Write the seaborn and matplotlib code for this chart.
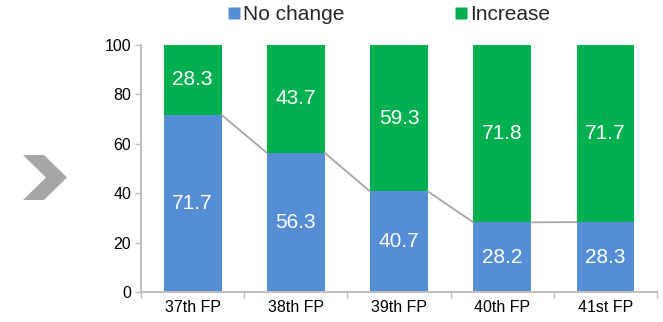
import matplotlib
matplotlib.use("Agg")
import matplotlib.pyplot as plt
from matplotlib.patches import Polygon
from matplotlib.lines import Line2D
from matplotlib.ticker import FixedLocator
import seaborn as sns
import pandas as pd

periods = ["37th FP", "38th FP", "39th FP", "40th FP", "41st FP"]
no_change = [71.7, 56.3, 40.7, 28.2, 28.3]
increase = [28.3, 43.7, 59.3, 71.8, 71.7]

blue = "#558ED5"
green = "#00B050"
grey = "#BFBFBF"

sns.set_theme(style="white")
plt.rcParams["font.family"] = ["Liberation Sans", "DejaVu Sans"]

df = pd.DataFrame({"period": periods, "no_change": no_change, "increase": increase})
df["total"] = df["no_change"] + df["increase"]

fig = plt.figure(figsize=(6.63, 3.22), dpi=100)
ax = fig.add_axes([0.2127, 0.0932, 0.991 - 0.2127, 0.8602 - 0.0932])

bw = 0.56
sns.barplot(data=df, x="period", y="total", color=green, width=bw, ax=ax,
            saturation=1, edgecolor="none")
sns.barplot(data=df, x="period", y="no_change", color=blue, width=bw, ax=ax,
            saturation=1, edgecolor="none")

# connector lines between the tops of the "No change" segments
for i in range(len(periods) - 1):
    ax.plot([i + bw / 2, i + 1 - bw / 2], [no_change[i], no_change[i + 1]],
            color="#A6A6A6", lw=1.3, zorder=1)

# value labels
for i in range(len(periods)):
    ax.text(i, no_change[i] / 2, f"{no_change[i]:.1f}", ha="center", va="center",
            color="white", fontsize=15)
    ax.text(i, no_change[i] + increase[i] / 2, f"{increase[i]:.1f}", ha="center",
            va="center", color="white", fontsize=15)

ax.set_xlim(-0.5, len(periods) - 0.5)
ax.set_ylim(0, 100)
ax.set_yticks([0, 20, 40, 60, 80, 100])
ax.set_xlabel("")
ax.set_ylabel("")
ax.tick_params(axis="y", labelsize=11.5, colors="black", length=4, width=1,
               color=grey, direction="out", left=True, pad=3)
ax.tick_params(axis="x", labelsize=11.5, colors="black", length=0, pad=6)
ax.xaxis.set_minor_locator(FixedLocator([i - 0.5 for i in range(len(periods) + 1)]))
ax.tick_params(axis="x", which="minor", length=4, width=1, color=grey,
               direction="out", bottom=True)
for side in ["top", "right"]:
    ax.spines[side].set_visible(False)
for side in ["left", "bottom"]:
    ax.spines[side].set_color(grey)
    ax.spines[side].set_linewidth(1.5)

# legend
handles = [Line2D([], [], marker="s", linestyle="none", markersize=8.5,
                  markerfacecolor=c, markeredgecolor="none") for c in (blue, green)]
fig.legend(handles, ["No change", "Increase"], loc="center left",
           bbox_to_anchor=(215 / 663, 1 - 15 / 322), ncol=2, frameon=False,
           fontsize=15, borderpad=0, handletextpad=0.05, columnspacing=5.2,
           handlelength=0.8)

# chevron marker at the left
W, H = fig.get_size_inches() * fig.dpi
pts = [(23, 155), (44, 155), (67, 177.5), (44, 200), (23, 200), (46, 177.5)]
chev = Polygon([(x / W, 1 - y / H) for x, y in pts], closed=True,
               transform=fig.transFigure, facecolor="#A6A6A6", edgecolor="none")
fig.patches.append(chev)

fig.savefig("out.png", dpi=100)
